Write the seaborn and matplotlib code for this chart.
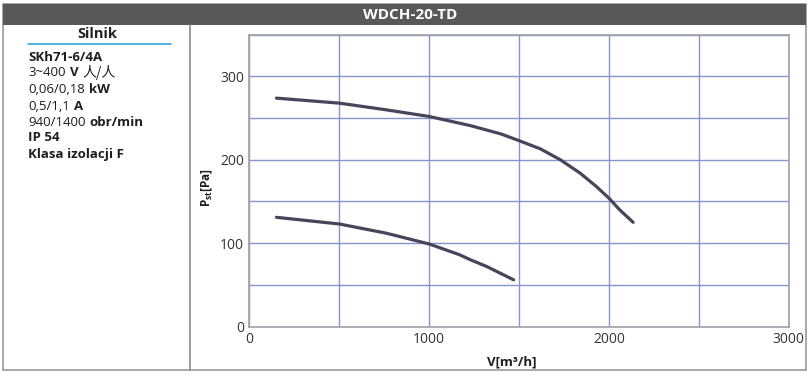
import matplotlib
matplotlib.use("Agg")
import matplotlib.pyplot as plt
import seaborn as sns
from matplotlib.lines import Line2D
from matplotlib.patches import Rectangle

# fan curves (airflow m3/h, static pressure Pa)
flow_high = [150, 500, 760, 1000, 1230, 1400, 1500, 1620, 1730, 1840, 1930, 2000, 2060, 2135]
pres_high = [274, 268, 260, 252, 241, 231, 223, 213, 200, 184, 168, 154, 140, 125]
flow_low = [150, 500, 760, 1000, 1170, 1230, 1320, 1470]
pres_low = [131, 123, 112, 99, 86, 80, 72, 56]

x_ticks = [0, 1000, 2000, 3000]
y_ticks = [0, 100, 200, 300]

title = "WDCH-20-TD"
motor_header = "Silnik"
motor_lines = [
    [("SKh71-6/4A", "bold")],
    [("3~400", "normal"), ("V", "bold"), ("人/人", "cjk")],
    [("0,06/0,18", "normal"), ("kW", "bold")],
    [("0,5/1,1", "normal"), ("A", "bold")],
    [("940/1400", "normal"), ("obr/min", "bold")],
    [("IP 54", "bold")],
    [("Klasa izolacji F", "bold")],
]

W, H = 812, 375
sns.set_theme(style="white")
plt.rcParams["font.family"] = ["Open Sans", "DejaVu Sans"]
plt.rcParams["mathtext.fontset"] = "custom"
plt.rcParams["mathtext.rm"] = "Open Sans"
plt.rcParams["mathtext.bf"] = "Open Sans:bold"

fig = plt.figure(figsize=(W / 100, H / 100), dpi=100)
fig.patch.set_facecolor("white")


def fx(px):
    return px / W


def fy(py):
    return 1 - py / H


# chart
ax = fig.add_axes([fx(249.5), fy(326.5), fx(788.6) - fx(249.5), fy(34.8) - fy(326.5)])
ax.set_facecolor("white")
sns.lineplot(x=flow_high, y=pres_high, ax=ax, color="#48455a", linewidth=2.3,
             sort=False, estimator=None)
sns.lineplot(x=flow_low, y=pres_low, ax=ax, color="#48455a", linewidth=2.3,
             sort=False, estimator=None)
ax.set_xlim(0, 3000)
ax.set_ylim(0, 350)
ax.set_xticks(range(0, 3001, 500))
ax.set_yticks(range(0, 351, 50))
ax.set_xticklabels([str(v) if v in x_ticks else "" for v in range(0, 3001, 500)])
ax.set_yticklabels([str(v) if v in y_ticks else "" for v in range(0, 351, 50)])
ax.grid(True, color="#8595c8", linewidth=1.0)
ax.tick_params(length=0, pad=4, labelsize=10, labelcolor="#333333")
for s in ax.spines.values():
    s.set_color("#a0a0a8")
    s.set_linewidth(1.2)
ax.set_xlabel("")
ax.set_ylabel("")

fig.text(fx(206), fy(188), r"$\mathbf{P_{st}[Pa]}$", fontsize=8.5, rotation=90,
         ha="center", va="center", color="#1e1e1e")
fig.text(fx(512), fy(362), "V[m³/h]", fontsize=9.5, fontweight="bold",
         ha="center", va="center", color="#1e1e1e")

# frame, header bar and divider
fig.add_artist(Rectangle((fx(3), fy(370)), fx(803), 366 / H,
                         transform=fig.transFigure, fill=False,
                         edgecolor="#9a9a9a", linewidth=1.2))
fig.add_artist(Rectangle((fx(3), fy(25)), fx(803), 21 / H,
                         transform=fig.transFigure, facecolor="#58585a",
                         edgecolor="none"))
fig.add_artist(Line2D([fx(190.5), fx(190.5)], [fy(25), fy(370)],
                      transform=fig.transFigure, color="#8a8a8a", linewidth=1.2))
fig.text(fx(410), fy(15), title, color="white", fontsize=11, fontweight="bold",
         ha="center", va="center")

# motor info panel
fig.text(fx(97), fy(34), motor_header, fontsize=10.5, fontweight="bold",
         color="#222222", ha="center", va="center")
fig.add_artist(Line2D([fx(28), fx(171)], [fy(43.5), fy(43.5)],
                      transform=fig.transFigure, color="#3aa7d8", linewidth=1.2))

row_y = [57, 72.5, 89, 106, 121.5, 137, 154]
for y, pieces in zip(row_y, motor_lines):
    prev = None
    for txt, kind in pieces:
        kw = dict(fontsize=9.5, color="#1e1e1e", va="bottom", ha="left")
        if kind == "bold":
            kw["fontweight"] = "bold"
        elif kind == "cjk":
            kw["family"] = ["Noto Sans CJK SC", "DejaVu Sans"]
            kw["fontsize"] = 10
        if prev is None:
            prev = fig.text(fx(28), fy(y + 7), txt, **kw)
        else:
            prev = ax.annotate(txt, xy=(1, 0), xycoords=prev, xytext=(3, 0),
                               textcoords="offset points", annotation_clip=False, **kw)

fig.savefig("out.png", dpi=100)
